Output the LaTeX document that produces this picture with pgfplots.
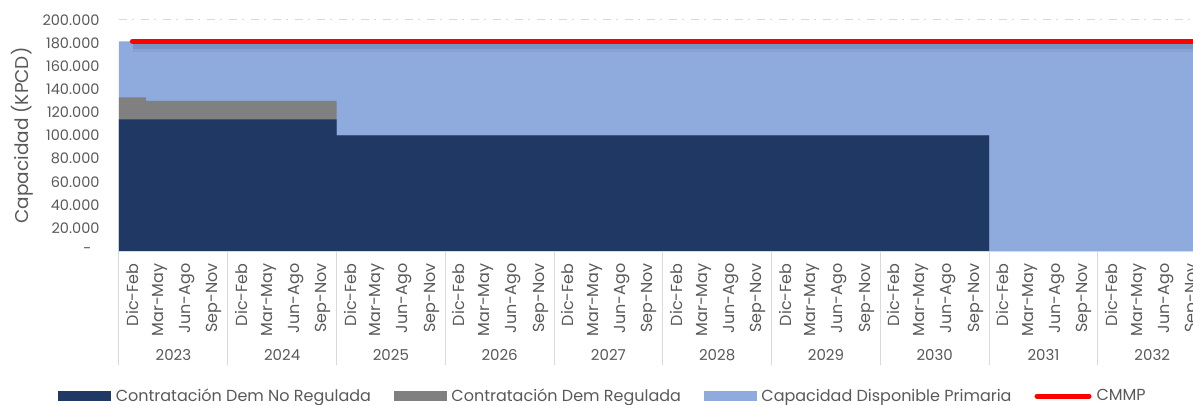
\documentclass[border=0pt]{standalone}
\usepackage{pgfplots}
\pgfplotsset{compat=1.18}
\usepackage{pgfplotstable}
\usepackage{fontspec}
\setmainfont{Poppins}
\definecolor{darkblue}{HTML}{203864}
\definecolor{grayreg}{HTML}{808080}
\definecolor{lightblue}{HTML}{8FAADC}
\definecolor{txt}{HTML}{595959}
\definecolor{sepc}{HTML}{D9D9D9}
\definecolor{cmmp}{HTML}{FF0000}

% cumulative tops of the stacked (step) areas, at quarter boundaries
\pgfplotstableread{
x   total   reg     noreg
0   181500  133000  114000
1   181500  130000  114000
8   181500  100000  100000
32  181500  0       0
40  181500  0       0
}\capdata

\begin{document}
\begin{tikzpicture}
\begin{axis}[
  scale only axis, width=1074pt, height=231pt,
  xmin=0, xmax=39.5, ymin=0, ymax=200000,
  clip=false,
  scaled y ticks=false,
  axis line style={draw=none},
  ytick={0,20000,40000,60000,80000,100000,120000,140000,160000,180000,200000},
  yticklabels={-\hspace*{8pt},20.000,40.000,60.000,80.000,100.000,120.000,140.000,160.000,180.000,200.000},
  ytick style={draw=none},
  yticklabel style={font=\fontsize{14.5}{16}\selectfont, text=txt, xshift=-16pt},
  ymajorgrids,
  major grid style={draw=sepc, line width=1pt, dash pattern=on 8pt off 5pt on 2pt off 7pt},
  xtick={0.5,1.5,2.5,3.5,4.5,5.5,6.5,7.5,8.5,9.5,10.5,11.5,12.5,13.5,14.5,15.5,16.5,17.5,18.5,19.5,20.5,21.5,22.5,23.5,24.5,25.5,26.5,27.5,28.5,29.5,30.5,31.5,32.5,33.5,34.5,35.5,36.5,37.5,38.5,39.5},
  xticklabels={Dic-Feb,Mar-May,Jun-Ago,Sep-Nov,Dic-Feb,Mar-May,Jun-Ago,Sep-Nov,Dic-Feb,Mar-May,Jun-Ago,Sep-Nov,Dic-Feb,Mar-May,Jun-Ago,Sep-Nov,Dic-Feb,Mar-May,Jun-Ago,Sep-Nov,Dic-Feb,Mar-May,Jun-Ago,Sep-Nov,Dic-Feb,Mar-May,Jun-Ago,Sep-Nov,Dic-Feb,Mar-May,Jun-Ago,Sep-Nov,Dic-Feb,Mar-May,Jun-Ago,Sep-Nov,Dic-Feb,Mar-May,Jun-Ago,Sep-Nov},
  xtick pos=left,
  major tick length=0pt,
  xticklabel style={font=\fontsize{16}{18}\selectfont, text=txt, rotate=90, anchor=east, xshift=-9pt},
  extra x ticks={0,4,8,12,16,20,24,28,32,36},
  extra x tick labels={},
  extra x tick style={major tick length=114pt, tick align=outside, tick style={draw=sepc, line width=1pt}},
  ylabel={Capacidad (KPCD)},
  ylabel style={at={(axis description cs:-0.0903,0.5)}, anchor=center, font=\fontsize{18.5}{20}\selectfont, text=txt},
  legend columns=4,
  legend cell align=left,
  legend style={at={(axis description cs:0.4507,-0.628)}, anchor=center, draw=none, fill=none,
    font=\fontsize{16}{18}\selectfont, text=txt,
    /tikz/every odd column/.append style={column sep=3pt},
    /tikz/every even column/.append style={column sep=21pt}},
]
\addplot[const plot mark left, fill=lightblue, draw=none, forget plot] table[x=x,y=total]{\capdata} \closedcycle;
\addplot[const plot mark left, fill=grayreg, draw=none, forget plot] table[x=x,y=reg]{\capdata} \closedcycle;
\addplot[const plot mark left, fill=darkblue, draw=none, forget plot] table[x=x,y=noreg]{\capdata} \closedcycle;
% shadow of CMMP line
\addplot[forget plot, draw=darkblue, opacity=0.08, line width=10pt, yshift=-6pt] coordinates {(0.5,181500) (40,181500)};
\addplot[forget plot, draw=darkblue, opacity=0.12, line width=5pt, yshift=-5pt] coordinates {(0.5,181500) (40,181500)};
\addplot[forget plot, draw=cmmp, line width=5.5pt, line cap=round] coordinates {(0.5,181500) (40,181500)};

\draw[sepc, line width=1pt] (rel axis cs:0,0) -- (rel axis cs:1,0);

\node[font=\fontsize{15}{16}\selectfont, text=txt] at (axis cs:2,0) [yshift=-104pt] {2023};
\node[font=\fontsize{15}{16}\selectfont, text=txt] at (axis cs:6,0) [yshift=-104pt] {2024};
\node[font=\fontsize{15}{16}\selectfont, text=txt] at (axis cs:10,0) [yshift=-104pt] {2025};
\node[font=\fontsize{15}{16}\selectfont, text=txt] at (axis cs:14,0) [yshift=-104pt] {2026};
\node[font=\fontsize{15}{16}\selectfont, text=txt] at (axis cs:18,0) [yshift=-104pt] {2027};
\node[font=\fontsize{15}{16}\selectfont, text=txt] at (axis cs:22,0) [yshift=-104pt] {2028};
\node[font=\fontsize{15}{16}\selectfont, text=txt] at (axis cs:26,0) [yshift=-104pt] {2029};
\node[font=\fontsize{15}{16}\selectfont, text=txt] at (axis cs:30,0) [yshift=-104pt] {2030};
\node[font=\fontsize{15}{16}\selectfont, text=txt] at (axis cs:34,0) [yshift=-104pt] {2031};
\node[font=\fontsize{15}{16}\selectfont, text=txt] at (axis cs:38,0) [yshift=-104pt] {2032};

\addlegendimage{legend image code/.code={\fill[darkblue] (0pt,-4.5pt) rectangle (52pt,4.5pt);}}
\addlegendentry{Contratación Dem No Regulada}
\addlegendimage{legend image code/.code={\fill[grayreg] (0pt,-4.5pt) rectangle (52pt,4.5pt);}}
\addlegendentry{Contratación Dem Regulada}
\addlegendimage{legend image code/.code={\fill[lightblue] (0pt,-4.5pt) rectangle (52pt,4.5pt);}}
\addlegendentry{Capacidad Disponible Primaria}
\addlegendimage{legend image code/.code={\draw[cmmp, line width=5pt, line cap=round] (3pt,0pt) -- (55pt,0pt);}}
\addlegendentry{CMMP}
\end{axis}
\pgfresetboundingbox
\path[use as bounding box] (-119pt,-153pt) rectangle (1074pt,251pt);
\end{tikzpicture}
\end{document}
